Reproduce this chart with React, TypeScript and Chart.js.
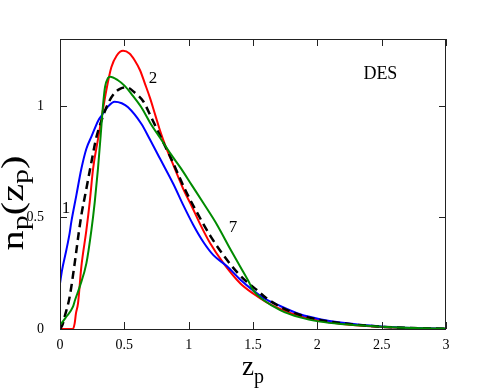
import React, { useEffect, useRef } from "react";
import { Chart, registerables } from "chart.js";

Chart.register(...registerables);

// Curve 1 (blue)
const blueX = [0, 0.016, 0.049, 0.075, 0.088, 0.127, 0.166, 0.205, 0.244, 0.298, 0.321, 0.37, 0.425, 0.48, 0.529, 0.632, 0.697, 0.778, 0.881, 0.959, 1.037, 1.114, 1.192, 1.296, 1.4, 1.503, 1.581, 1.711, 1.866, 2.02, 2.18, 2.5, 2.75, 3.0];
const blueY = [0.204, 0.264, 0.353, 0.43, 0.48, 0.599, 0.718, 0.808, 0.862, 0.935, 0.955, 0.995, 1.019, 1.012, 0.994, 0.92, 0.852, 0.763, 0.65, 0.554, 0.465, 0.39, 0.331, 0.282, 0.222, 0.172, 0.14, 0.103, 0.066, 0.044, 0.029, 0.011, 0.004, 0.001];

// Curve 2 (red)
const redX = [0, 0.1, 0.114, 0.124, 0.14, 0.166, 0.205, 0.231, 0.257, 0.295, 0.33, 0.36, 0.399, 0.44, 0.49, 0.54, 0.58, 0.622, 0.66, 0.7, 0.74, 0.78, 0.82, 0.87, 0.92, 0.96, 1.024, 1.089, 1.166, 1.27, 1.4, 1.503, 1.6, 1.711, 1.866, 2.02, 2.18, 2.5, 2.75, 3.0];
const redY = [0, 0, 0.025, 0.07, 0.115, 0.28, 0.443, 0.569, 0.718, 0.85, 0.97, 1.07, 1.173, 1.225, 1.247, 1.235, 1.205, 1.16, 1.1, 1.035, 0.96, 0.885, 0.82, 0.75, 0.68, 0.625, 0.55, 0.47, 0.385, 0.295, 0.205, 0.158, 0.122, 0.09, 0.057, 0.037, 0.024, 0.009, 0.003, 0.001];

// Fiducial (black dashed)
const dashX = [0, 0.02, 0.036, 0.075, 0.114, 0.145, 0.166, 0.205, 0.244, 0.283, 0.32, 0.373, 0.42, 0.47, 0.52, 0.58, 0.648, 0.7, 0.75, 0.816, 0.855, 0.933, 0.972, 1.063, 1.166, 1.27, 1.374, 1.452, 1.53, 1.6, 1.711, 1.866, 2.02, 2.18, 2.5, 2.75, 3.0];
const dashY = [0, 0.02, 0.055, 0.144, 0.294, 0.428, 0.51, 0.629, 0.748, 0.86, 0.93, 1.01, 1.055, 1.078, 1.083, 1.06, 1.02, 0.96, 0.9, 0.82, 0.775, 0.675, 0.625, 0.524, 0.42, 0.331, 0.256, 0.211, 0.175, 0.14, 0.1, 0.063, 0.041, 0.027, 0.01, 0.004, 0.001];

// Curve 7 (green)
const greenX = [0, 0.005, 0.049, 0.101, 0.117, 0.153, 0.205, 0.244, 0.27, 0.295, 0.316, 0.334, 0.35, 0.373, 0.39, 0.45, 0.503, 0.56, 0.632, 0.7, 0.78, 0.86, 0.94, 1.024, 1.114, 1.218, 1.322, 1.4, 1.464, 1.503, 1.581, 1.711, 1.866, 2.02, 2.18, 2.5, 2.75, 3.0];
const greenY = [0.02, 0.022, 0.055, 0.1, 0.13, 0.189, 0.294, 0.443, 0.569, 0.718, 0.867, 1.0, 1.085, 1.125, 1.131, 1.115, 1.09, 1.05, 0.994, 0.925, 0.855, 0.785, 0.72, 0.645, 0.565, 0.47, 0.36, 0.28, 0.215, 0.172, 0.13, 0.085, 0.052, 0.033, 0.022, 0.01, 0.004, 0.002];

const xTicks = [0, 0.5, 1, 1.5, 2, 2.5, 3];
const yTicks = [0, 0.5, 1];

const noteText = ["1", "2", "7", "DES"];
const noteX = [0.047, 0.723, 1.345, 2.49];
const noteY = [0.54, 1.122, 0.456, 1.144];

const toPts = (xs: number[], ys: number[]) => xs.map((x, i) => ({ x, y: ys[i] }));

const SERIF = '"Liberation Serif", "Times New Roman", serif';

function drawParts(ctx: CanvasRenderingContext2D, parts: { t: string; sub: boolean }[], main: number, sub: number, off: number) {
  let total = 0;
  const widths = parts.map((p) => {
    ctx.font = `${p.sub ? sub : main}px ${SERIF}`;
    const w = ctx.measureText(p.t).width;
    total += w;
    return w;
  });
  let x = -total / 2;
  parts.forEach((p, i) => {
    ctx.font = `${p.sub ? sub : main}px ${SERIF}`;
    ctx.fillText(p.t, x, p.sub ? off : 0);
    x += widths[i];
  });
}

const framePlugin = {
  id: "frame",
  afterDatasetsDraw(chart: any) {
    const { ctx, chartArea: a, scales } = chart;
    const xs = scales.x;
    const ys = scales.y;
    ctx.save();
    ctx.strokeStyle = "#222";
    ctx.lineWidth = 1;
    ctx.strokeRect(a.left + 0.5, a.top + 0.5, a.right - a.left - 1, a.bottom - a.top);
    const tl = 7;
    ctx.beginPath();
    xTicks.forEach((v) => {
      const px = Math.round(xs.getPixelForValue(v)) + 0.5;
      ctx.moveTo(px, a.bottom);
      ctx.lineTo(px, a.bottom - tl);
      ctx.moveTo(px, a.top);
      ctx.lineTo(px, a.top + tl);
    });
    yTicks.forEach((v) => {
      const py = Math.round(ys.getPixelForValue(v)) + 0.5;
      ctx.moveTo(a.left, py);
      ctx.lineTo(a.left + tl, py);
      ctx.moveTo(a.right, py);
      ctx.lineTo(a.right - tl, py);
    });
    ctx.stroke();

    ctx.fillStyle = "#000";
    ctx.textAlign = "center";
    ctx.textBaseline = "middle";
    noteText.forEach((t, i) => {
      ctx.font = `${t === "DES" ? 18 : 17}px ${SERIF}`;
      ctx.fillText(t, xs.getPixelForValue(noteX[i]), ys.getPixelForValue(noteY[i]));
    });

    // axis titles
    ctx.textAlign = "left";
    ctx.textBaseline = "alphabetic";
    ctx.save();
    ctx.translate((a.left + a.right) / 2, 375);
    drawParts(ctx, [{ t: "z", sub: false }, { t: "p", sub: true }], 27, 20, 8);
    ctx.restore();

    ctx.save();
    ctx.translate(23, 203);
    ctx.rotate(-Math.PI / 2);
    ctx.scale(1.3, 1);
    drawParts(
      ctx,
      [
        { t: "n", sub: false },
        { t: "p", sub: true },
        { t: "(", sub: false },
        { t: "z", sub: false },
        { t: "p", sub: true },
        { t: ")", sub: false },
      ],
      31,
      23,
      5
    );
    ctx.restore();
    ctx.restore();
  },
};

export default function App() {
  const ref = useRef<HTMLCanvasElement | null>(null);
  useEffect(() => {
    if (!ref.current) return;
    const common = { showLine: true, pointRadius: 0, borderWidth: 2, fill: false, cubicInterpolationMode: "monotone" as const };
    const fmt = (v: any) => String(v);
    const chart = new Chart(ref.current, {
      type: "scatter",
      data: {
        datasets: [
          { ...common, label: "7", data: toPts(greenX, greenY), borderColor: "#008b00" },
          { ...common, label: "fid", data: toPts(dashX, dashY), borderColor: "#000", borderDash: [8, 5], borderWidth: 2.5 },
          { ...common, label: "1", data: toPts(blueX, blueY), borderColor: "#0000ff" },
          { ...common, label: "2", data: toPts(redX, redY), borderColor: "#ff0000" },
        ],
      },
      options: {
        responsive: false,
        animation: false,
        devicePixelRatio: 1,
        layout: { padding: { left: 0, top: 39, right: 39, bottom: 0 } },
        plugins: { legend: { display: false }, tooltip: { enabled: false } },
        scales: {
          x: {
            type: "linear",
            min: 0,
            max: 3,
            grid: { display: false },
            border: { display: false },
            afterBuildTicks: (s: any) => {
              s.ticks = xTicks.map((v) => ({ value: v }));
            },
            afterFit: (s: any) => {
              s.height = 59;
            },
            ticks: { color: "#000", padding: 0, font: { family: SERIF, size: 14 }, maxRotation: 0, callback: fmt },
          },
          y: {
            type: "linear",
            min: 0,
            max: 1.3,
            grid: { display: false },
            border: { display: false },
            afterBuildTicks: (s: any) => {
              s.ticks = yTicks.map((v) => ({ value: v }));
            },
            afterFit: (s: any) => {
              s.width = 60;
            },
            ticks: { color: "#000", padding: 8, font: { family: SERIF, size: 14 }, callback: fmt },
          },
        },
      },
      plugins: [framePlugin],
    });
    return () => chart.destroy();
  }, []);
  return (
    <div style={{ position: "fixed", left: 0, top: 0, width: 485, height: 388, background: "#fff" }}>
      <canvas ref={ref} width={485} height={388} style={{ width: 485, height: 388, display: "block" }} />
    </div>
  );
}
